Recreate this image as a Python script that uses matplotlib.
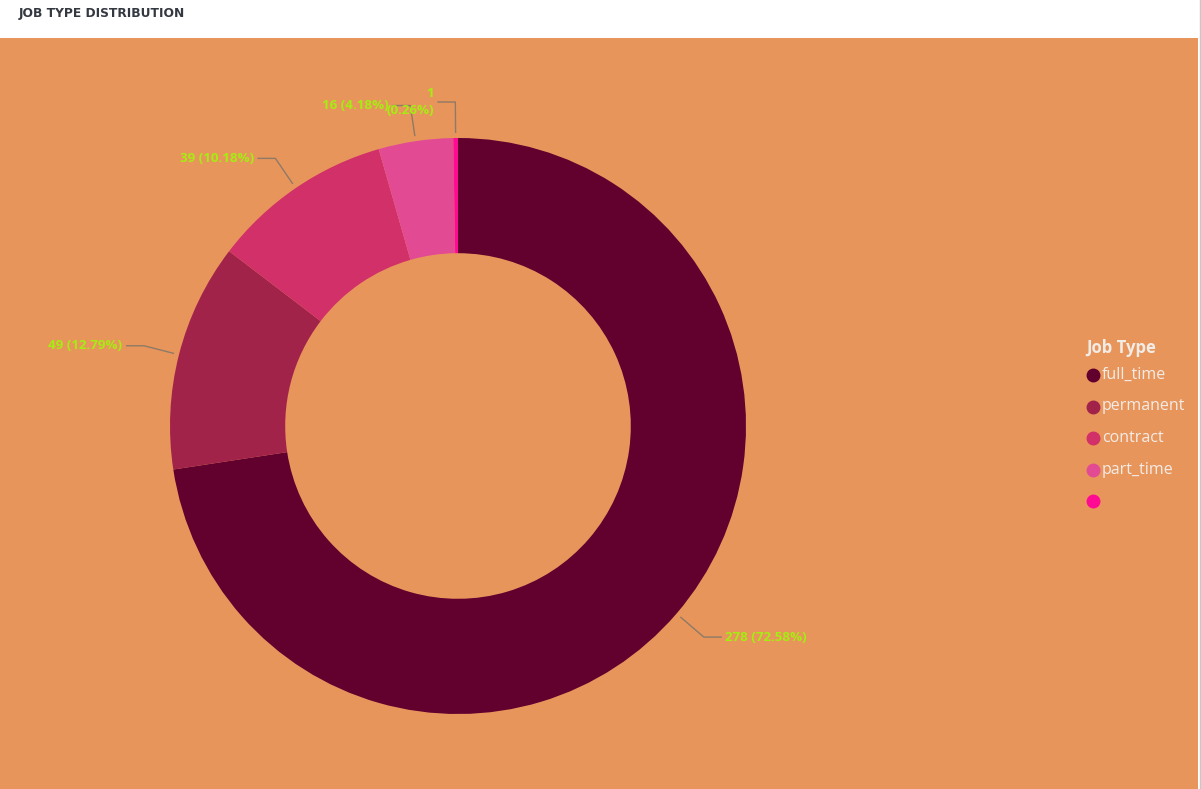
import numpy as np
import matplotlib
matplotlib.use('Agg')
import matplotlib.pyplot as plt
from matplotlib.lines import Line2D
from matplotlib.patches import Rectangle

# Datos
job_types = ['full_time', 'permanent', 'contract', 'part_time', '']
counts = [278, 49, 39, 16, 1]
colors = ['#62002E', '#A2234A', '#D13068', '#E24B93', '#FF0A93']

W, H = 1201, 789
BG = '#E8955C'
LABEL_COLOR = '#A6EC12'
LINE_COLOR = '#8E7A66'

fig = plt.figure(figsize=(W / 100, H / 100), dpi=100)
fig.patch.set_facecolor('white')

# fondo naranja bajo la barra del titulo
fig.add_artist(Rectangle((0, 0), 1198 / W, (H - 38) / H, transform=fig.transFigure,
                         facecolor=BG, edgecolor='none', zorder=0))
fig.add_artist(Line2D([1199.5 / W, 1199.5 / W], [0, 1], transform=fig.transFigure,
                      color='#C8C8C8', lw=1))

fig.text(19 / W, 1 - 13 / H, 'JOB TYPE DISTRIBUTION', fontsize=8.8, fontweight='bold',
         color='#343840', va='center', ha='left')

# ejes: centro del anillo en (458, 426) px, radio 288 px
R = 288
cx, cy = 458, 426
half = 400
ax = fig.add_axes([(cx - half) / W, (H - cy - half) / H, 2 * half / W, 2 * half / H])

wedges, _ = ax.pie(counts, colors=colors, startangle=90, counterclock=False, radius=1,
                   wedgeprops=dict(width=0.4, edgecolor='none'))
ax.set_xlim(-half / R, half / R)
ax.set_ylim(-half / R, half / R)
ax.set_aspect('equal')
ax.axis('off')
ax.patch.set_alpha(0)

total = sum(counts)
for w, v in zip(wedges, counts):
    ang = np.deg2rad((w.theta1 + w.theta2) / 2)
    c, s = np.cos(ang), np.sin(ang)
    p0 = (1.02 * c, 1.02 * s)
    p1 = (1.125 * c, 1.125 * s)
    side = 1 if c >= 0 else -1
    p2 = (p1[0] + side * 0.06, p1[1])
    ax.plot([p0[0], p1[0], p2[0]], [p0[1], p1[1], p2[1]], color=LINE_COLOR, lw=1, clip_on=False)
    pct = 100 * v / total
    # la etiqueta mas pequena se parte en dos lineas
    sep = '\n' if pct < 1 else ' '
    txt = f'{v}{sep}({pct:.2f}%)'
    tx = p2[0] + side * 0.015
    ty = p2[1]
    ax.text(tx, ty, txt, color=LABEL_COLOR, fontsize=9.6, fontweight='bold',
            family='Open Sans', ha='left' if side > 0 else 'right', va='center',
            clip_on=False, linespacing=1.35)

# leyenda
fig.text(1086 / W, 1 - 348 / H, 'Job Type', fontsize=12, fontweight='bold',
         color='#F2ECE6', family='Open Sans', va='center', ha='left')
for i, (name, col) in enumerate(zip(job_types, colors)):
    y = 1 - (375 + i * 31.5) / H
    fig.add_artist(Line2D([1093 / W], [y], transform=fig.transFigure, marker='o',
                          markersize=9, color=col, lw=0))
    fig.text(1102 / W, y, name, fontsize=11.5, color='#F2ECE6', family='Open Sans',
             va='center', ha='left')

fig.savefig('out.png', dpi=100)
